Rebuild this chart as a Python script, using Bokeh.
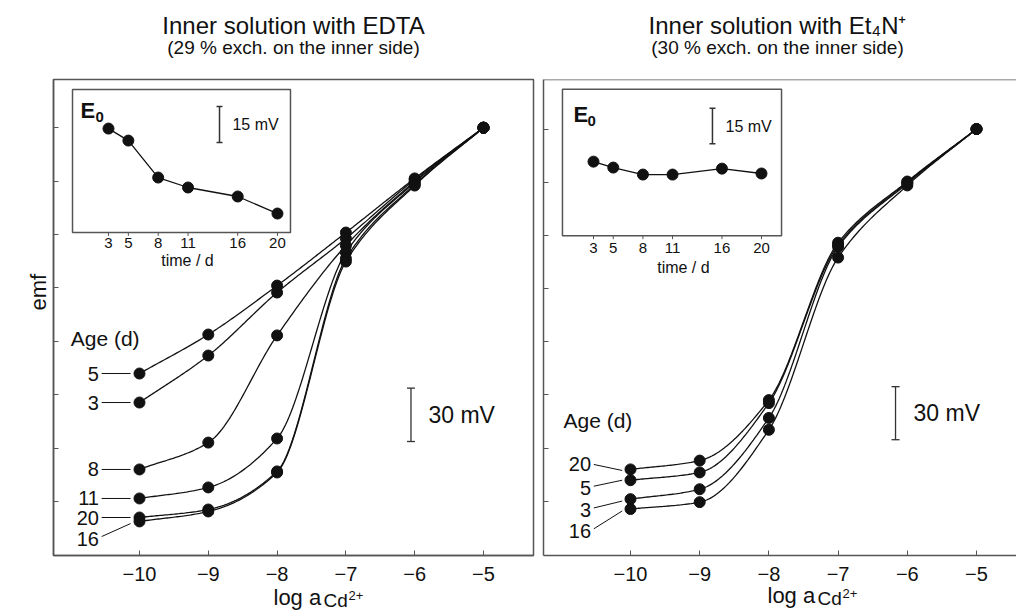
import numpy as np
from bokeh.plotting import figure
from bokeh.layouts import row, column
from bokeh.models import Range1d, FixedTicker, Label, Span, Title
from bokeh.embed import file_html
from bokeh.resources import INLINE
from bokeh.core.properties import value

FONT = "Liberation Sans"
INK = "#111111"
FRAME = "#555555"

# ---------------- data ----------------
log_a = [-10, -9, -8, -7, -6, -5]
emf_ticks = [0, 30, 60, 90, 120, 150, 180, 210]

# Left panel: inner solution with EDTA (emf in mV, arbitrary offset)
edta_ages = ["5", "3", "8", "11", "20", "16"]
edta_d5 = [71.9, 93.8, 121.3, 151.1, 181.5, 210.0]
edta_d3 = [55.6, 82.0, 117.4, 147.8, 180.9, 210.0]
edta_d8 = [18.0, 33.1, 93.3, 143.8, 179.8, 210.0]
edta_d11 = [1.7, 7.9, 35.4, 139.9, 179.2, 210.0]
edta_d20 = [-9.0, -4.5, 16.9, 136.5, 178.1, 210.0]
edta_d16 = [-11.2, -5.6, 16.3, 134.8, 177.5, 210.0]

# Right panel: inner solution with Et4N+
et4n_ages = ["20", "5", "3", "16"]
et4n_d20 = [17.9, 22.9, 57.1, 146.1, 180.7, 210.4]
et4n_d5 = [11.8, 16.2, 55.4, 144.9, 180.2, 210.4]
et4n_d3 = [1.1, 6.7, 47.0, 143.8, 179.6, 210.4]
et4n_d16 = [-4.5, -0.6, 40.3, 137.7, 178.5, 210.4]

# Insets: E0 vs time (mV, arbitrary offset)
time_d = [3, 5, 8, 11, 16, 20]
e0_edta = [43.3, 38.3, 22.9, 18.75, 15.0, 7.9]
e0_et4n = [31.25, 28.75, 25.8, 25.8, 28.3, 26.25]

# ---------------- annotation positions ----------------
edta_lab_y = [71.9, 55.6, 18.0, 1.7, -9.0, -20.8]
edta_lead_y0 = [71.9, 55.6, 18.0, 1.7, -9.0, -19.7]
edta_lead_y1 = [71.9, 55.6, 18.0, 1.7, -9.0, -12.4]
et4n_lab_y = [20.7, 7.3, -5.0, -16.8]
et4n_lead_y0 = [20.7, 8.4, -3.9, -15.7]
et4n_lead_y1 = [17.3, 11.8, 0.0, -5.6]


def pchip(x, y, n=40):
    x = np.asarray(x, float)
    y = np.asarray(y, float)
    h = np.diff(x)
    d = np.diff(y) / h
    m = np.zeros_like(y)
    m[0] = d[0]
    m[-1] = d[-1]
    for k in range(1, len(x) - 1):
        if d[k - 1] * d[k] > 0:
            w1 = 2 * h[k] + h[k - 1]
            w2 = h[k] + 2 * h[k - 1]
            m[k] = (w1 + w2) / (w1 / d[k - 1] + w2 / d[k])
    xs, ys = [], []
    for k in range(len(x) - 1):
        t = np.linspace(0, 1, n, endpoint=(k == len(x) - 2))
        h00 = 2 * t**3 - 3 * t**2 + 1
        h10 = t**3 - 2 * t**2 + t
        h01 = -2 * t**3 + 3 * t**2
        h11 = t**3 - t**2
        xs.append(x[k] + t * h[k])
        ys.append(h00 * y[k] + h10 * h[k] * m[k] + h01 * y[k + 1] + h11 * h[k] * m[k + 1])
    return np.concatenate(xs), np.concatenate(ys)


def lab(p, text, x, y, size, align="left", base="middle", style="normal", angle=0.0, rn=None):
    kw = {}
    if rn:
        kw = dict(x_range_name=rn, y_range_name=rn)
    p.add_layout(Label(x=x, y=y, text=text, text_font=FONT,
                       text_font_size=f"{size}px", text_align=align, text_baseline=base,
                       text_font_style=style, angle=angle, text_color=INK, **kw))


def strip(width, height, y_top, transparent=False):
    s = figure(width=width, height=height, x_range=Range1d(0, width),
               y_range=Range1d(y_top + height, y_top), output_backend="svg",
               toolbar_location=None, x_axis_location=None, y_axis_location=None,
               min_border=0, title=None)
    s.outline_line_color = None
    s.grid.visible = False
    fill = None if transparent else "white"
    s.background_fill_color = fill
    s.border_fill_color = fill
    return s


def make_panel(width, height, bl, br, bt, bb, xr, yr, ixr, iyr, standoff, outline=True):
    p = figure(width=width, height=height, x_range=Range1d(*xr), y_range=Range1d(*yr),
               output_backend="svg", toolbar_location=None, title=None,
               min_border_left=bl, min_border_right=br, min_border_top=bt, min_border_bottom=bb)
    p.extra_x_ranges = {"ins": Range1d(*ixr)}
    p.extra_y_ranges = {"ins": Range1d(*iyr)}
    p.grid.visible = False
    p.background_fill_color = "white"
    p.border_fill_color = "white"
    if outline:
        p.outline_line_color = FRAME
        p.outline_line_width = 1.5
    else:
        p.outline_line_color = None
        p.add_layout(Span(location=yr[1], dimension="width", line_color=FRAME, line_width=1.5))
    xa = p.xaxis[0]
    xa.ticker = FixedTicker(ticks=log_a)
    xa.major_tick_in = 5
    xa.major_tick_out = 0
    xa.minor_tick_line_color = None
    xa.axis_line_color = FRAME
    xa.axis_line_width = 1.5
    xa.major_tick_line_color = FRAME
    xa.major_label_text_font = FONT
    xa.major_label_text_font_size = "20px"
    xa.major_label_text_color = INK
    xa.major_label_standoff = standoff
    ya = p.yaxis[0]
    ya.ticker = FixedTicker(ticks=emf_ticks)
    ya.major_tick_in = 5
    ya.major_tick_out = 0
    ya.minor_tick_line_color = None
    ya.axis_line_color = FRAME
    ya.axis_line_width = 1.5
    ya.major_tick_line_color = FRAME
    ya.major_label_text_font_size = "1px"
    ya.major_label_text_color = None
    ya.major_label_standoff = 0
    return p


def draw_series(p, series):
    for s in series:
        xs, ys = pchip(log_a, s)
        p.line(xs, ys, line_color=INK, line_width=1.3)
    for s in series:
        p.scatter(log_a, s, size=11, color=INK)


def draw_inset(p, e0, box, tick_y, title_xy, e_xy, bar_x, bar_y, bar_txt_x):
    x0, x1, y0, y1 = box
    p.quad(left=[x0], right=[x1], bottom=[y0], top=[y1], fill_color="white",
           line_color=FRAME, line_width=1.5, x_range_name="ins", y_range_name="ins")
    p.segment(x0=time_d, y0=[0] * len(time_d), x1=time_d, y1=[-1.4] * len(time_d),
              line_color=FRAME, line_width=1, x_range_name="ins", y_range_name="ins")
    p.text(x=time_d, y=[tick_y] * len(time_d), text=[str(t) for t in time_d],
           text_font=value(FONT), text_font_size=value("15px"), text_align="center",
           text_baseline="middle", text_color=INK, x_range_name="ins", y_range_name="ins")
    lab(p, "time / d", title_xy[0], title_xy[1], 16, align="center", rn="ins")
    p.line(time_d, e0, line_color=INK, line_width=1.3, x_range_name="ins", y_range_name="ins")
    p.scatter(time_d, e0, size=11, color=INK, x_range_name="ins", y_range_name="ins")
    lab(p, "E", e_xy[0], e_xy[1], 22, style="bold", rn="ins")
    lab(p, "0", e_xy[2], e_xy[3], 15, style="bold", rn="ins")
    cap = 0.3
    p.segment(x0=[bar_x, bar_x - cap, bar_x - cap], y0=[bar_y[0], bar_y[0], bar_y[1]],
              x1=[bar_x, bar_x + cap, bar_x + cap], y1=[bar_y[1], bar_y[0], bar_y[1]],
              line_color="#333333", line_width=1.5, x_range_name="ins", y_range_name="ins")
    lab(p, "15 mV", bar_txt_x, (bar_y[0] + bar_y[1]) / 2, 16, rn="ins")


def draw_scalebar(p, bx, by, tx, cap):
    p.segment(x0=[bx, bx - cap, bx - cap], y0=[by[0], by[0], by[1]],
              x1=[bx, bx + cap, bx + cap], y1=[by[1], by[0], by[1]],
              line_color="#333333", line_width=1.3)
    lab(p, "30 mV", tx, (by[0] + by[1]) / 2, 23)


# ---------------- left panel ----------------
pl = make_panel(538, 511, 53, 5, 2, 33, (-11.25, -4.273), (-30.34, 237.08),
                (-2.533, 45.76), (-134.58, 63.75), 11)
pl.add_layout(Title(text="emf", align="left", offset=245, standoff=6, text_font=FONT,
                    text_font_size="22px", text_font_style="normal", text_color=INK), "left")
draw_series(pl, [edta_d5, edta_d3, edta_d8, edta_d11, edta_d20, edta_d16])
pl.segment(x0=[-10.55] * 6, y0=edta_lead_y0, x1=[-10.13] * 6, y1=edta_lead_y1,
           line_color=INK, line_width=1)
pl.text(x=[-10.59] * 6, y=edta_lab_y, text=edta_ages, text_font=value(FONT),
        text_font_size=value("20px"), text_align="right", text_baseline="middle", text_color=INK)
lab(pl, "Age (d)", -11.0, 91.6, 21)
draw_scalebar(pl, -6.054, (33.7, 63.7), -5.80, 0.058)
draw_inset(pl, e0_edta, (-0.62, 21.31, 0, 59.6), -4.2, (10.95, -11.7),
           (0.18, 50.8, 1.69, 48.0), 14.17, (37.5, 52.5), 15.47)

# ---------------- right panel ----------------
pr = make_panel(478, 511, 5, 0, 0, 31, (-11.257, -4.422), (-30.78, 238.4),
                (-2.06, 45.81), (-134.58, 65.83), 11, outline=False)
draw_series(pr, [et4n_d20, et4n_d5, et4n_d3, et4n_d16])
pr.segment(x0=[-10.53] * 4, y0=et4n_lead_y0, x1=[-10.12] * 4, y1=et4n_lead_y1,
           line_color=INK, line_width=1)
pr.text(x=[-10.57] * 4, y=et4n_lab_y, text=et4n_ages, text_font=value(FONT),
        text_font_size=value("20px"), text_align="right", text_baseline="middle", text_color=INK)
lab(pr, "Age (d)", -10.968, 45.3, 21)
draw_scalebar(pr, -6.17, (34.7, 64.7), -5.91, 0.058)
draw_inset(pr, e0_et4n, (-0.14, 22.03, 0, 61.7), -5.0, (12.1, -13.3),
           (0.98, 51.25, 2.39, 48.5), 15.04, (38.75, 53.75), 16.36)

# ---------------- title strip (page pixel coordinates) ----------------
top = strip(1016, 77, 0)
lab(top, "Inner solution with EDTA", 293, 25, 24, align="center", base="alphabetic")
lab(top, "(29 % exch. on the inner side)", 293, 47, 19, align="center", base="alphabetic")
lab(top, "Inner solution with Et\u2084N\u207a", 777, 25, 24, align="center", base="alphabetic")
lab(top, "(30 % exch. on the inner side)", 777, 47, 19, align="center", base="alphabetic")

# ---------------- x-axis title strip (overlaps the panels' lower margin) ----------------
bot = strip(1016, 32, 580, transparent=True)
bot.margin = (-8, 0, 0, 0)
lab(bot, "log a", 273, 597, 22, base="alphabetic")
lab(bot, "Cd", 323, 600, 19, base="alphabetic")
lab(bot, "2+", 348, 595, 13, base="alphabetic")
lab(bot, "log a", 767, 595, 22, base="alphabetic")
lab(bot, "Cd", 817, 598, 19, base="alphabetic")
lab(bot, "2+", 842, 593, 13, base="alphabetic")

layout = column(top, row(pl, pr), bot)
open("out.html", "w").write(file_html(layout, INLINE))
